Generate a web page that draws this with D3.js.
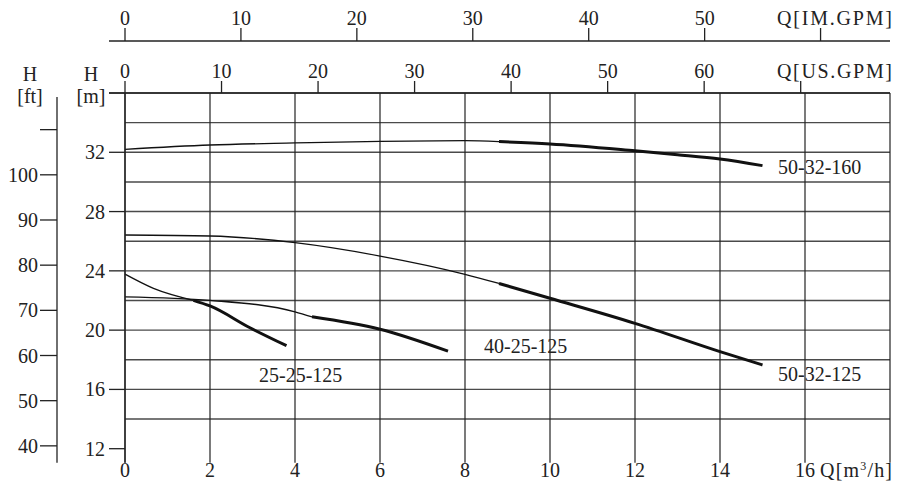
<!DOCTYPE html>
<html>
<head>
<meta charset="utf-8">
<script src="https://cdn.jsdelivr.net/npm/d3@7/dist/d3.min.js"></script>
<style>
  html, body { margin: 0; padding: 0; background: #fff; }
  svg { display: block; }
  text { font-family: "Liberation Serif", "Times New Roman", serif; font-size: 20px; fill: #222; }
</style>
</head>
<body>
<svg id="chart" width="900" height="500"></svg>
<script>
// ---- data ----
const qTicks = [0, 2, 4, 6, 8, 10, 12, 14, 16, 18];
const qTickLabels = ["0", "2", "4", "6", "8", "10", "12", "14", "16", ""];
const hTicks = [12, 16, 20, 24, 28, 32, 36];
const hTickLabels = ["12", "16", "20", "24", "28", "32", ""];
const hGrid = [14, 16, 18, 20, 22, 24, 26, 28, 30, 32, 34, 36];
const ftTicks = [40, 50, 60, 70, 80, 90, 100, 110];
const ftTickLabels = ["40", "50", "60", "70", "80", "90", "100", ""];
const usGpmTicks = [0, 10, 20, 30, 40, 50, 60, 70];
const usGpmLabels = ["0", "10", "20", "30", "40", "50", "60", ""];
const imGpmTicks = [0, 10, 20, 30, 40, 50, 60];
const imGpmLabels = ["0", "10", "20", "30", "40", "50", ""];

// pump curves: flow Q [m3/h], head H [m]; thickFrom = index where operating range starts
const names = ["50-32-160", "50-32-125", "40-25-125", "25-25-125"];
const q_50_32_160 = [0, 2, 4, 6, 8, 8.8, 10, 12, 13, 14, 15];
const h_50_32_160 = [32.2, 32.49, 32.63, 32.74, 32.78, 32.72, 32.56, 32.1, 31.84, 31.55, 31.1];
const q_50_32_125 = [0, 2, 4, 6, 8, 8.8, 10, 12, 14, 15];
const h_50_32_125 = [26.42, 26.35, 25.9, 25.0, 23.77, 23.15, 22.15, 20.46, 18.55, 17.65];
const q_40_25_125 = [0, 2, 4, 4.4, 6, 7.6];
const h_40_25_125 = [22.25, 22.01, 21.24, 20.9, 20.06, 18.58];
const q_25_25_125 = [0, 0.67, 1.61, 2, 2.94, 3.8];
const h_25_25_125 = [23.78, 22.82, 22.01, 21.63, 20.16, 18.95];
const thickFrom = [5, 5, 3, 2];

// ---- scales ----
const M3H_PER_USGPM = 1 / 4.4029;
const M3H_PER_IMGPM = 1 / 3.6661;
const M_PER_FT = 0.3048;

const x = d3.scaleLinear().domain([0, 18]).range([125, 890]);
const y = d3.scaleLinear().domain([12, 36]).range([448.7, 93]);
const xUS = d3.scaleLinear().domain([0, 18 / M3H_PER_USGPM]).range([125, 890]);
const xIM = d3.scaleLinear().domain([0, 18 / M3H_PER_IMGPM]).range([125, 890]);
const yFt = d3.scaleLinear().domain([12 / M_PER_FT, 36 / M_PER_FT]).range([448.7, 93]);

const svg = d3.select("#chart");
svg.append("rect").attr("width", 900).attr("height", 500).attr("fill", "#fff");

// ---- grid ----
const grid = svg.append("g");
grid.selectAll("line.h").data(hGrid).enter().append("line")
  .attr("x1", x(0)).attr("x2", x(18))
  .attr("y1", d => y(d)).attr("y2", d => y(d))
  .attr("stroke", "#4a4a4a").attr("stroke-width", 1.4);
grid.selectAll("line.v").data(qTicks).enter().append("line")
  .attr("x1", d => x(d)).attr("x2", d => x(d))
  .attr("y1", y(36)).attr("y2", y(12) + 14)
  .attr("stroke", "#222").attr("stroke-width", 1.2);

// ---- curves ----
const series = [
  [q_50_32_160, h_50_32_160],
  [q_50_32_125, h_50_32_125],
  [q_40_25_125, h_40_25_125],
  [q_25_25_125, h_25_25_125]
];
const line = d3.line().x(d => x(d[0])).y(d => y(d[1])).curve(d3.curveMonotoneX);
const curves = svg.append("g");
series.forEach((s, i) => {
  const pts = s[0].map((q, j) => [q, s[1][j]]);
  curves.append("path").attr("d", line(pts.slice(0, thickFrom[i] + 1)))
    .attr("fill", "none").attr("stroke", "#111").attr("stroke-width", 1.3);
  curves.append("path").attr("d", line(pts.slice(thickFrom[i])))
    .attr("fill", "none").attr("stroke", "#111").attr("stroke-width", 3);
});

// curve labels
const labelPos = [
  { x: 778, y: 174 },
  { x: 778, y: 381 },
  { x: 484, y: 353 },
  { x: 259, y: 382 }
];
svg.append("g").selectAll("text").data(names).enter().append("text")
  .attr("x", (d, i) => labelPos[i].x).attr("y", (d, i) => labelPos[i].y)
  .text(d => d);

// ---- left m axis ----
const mAxis = svg.append("g");
mAxis.append("line").attr("x1", x(0)).attr("x2", x(0)).attr("y1", y(36)).attr("y2", y(12) + 14)
  .attr("stroke", "#222").attr("stroke-width", 1.3);
mAxis.selectAll("line.t").data(hTicks).enter().append("line")
  .attr("x1", 109).attr("x2", x(0)).attr("y1", d => y(d)).attr("y2", d => y(d))
  .attr("stroke", "#222").attr("stroke-width", 1.3);
mAxis.selectAll("text").data(hTicks).enter().append("text")
  .attr("x", 105).attr("y", d => y(d)).attr("dy", "0.35em").attr("text-anchor", "end")
  .text((d, i) => hTickLabels[i]);
svg.append("text").attr("x", 91).attr("y", 81).attr("text-anchor", "middle").text("H");
svg.append("text").attr("x", 91).attr("y", 103).attr("text-anchor", "middle").text("[m]");

// ---- left ft axis ----
const ftAxis = svg.append("g");
ftAxis.append("line").attr("x1", 57).attr("x2", 57).attr("y1", 97).attr("y2", y(12) + 14)
  .attr("stroke", "#222").attr("stroke-width", 1.3);
ftAxis.selectAll("line.t").data(ftTicks).enter().append("line")
  .attr("x1", 40).attr("x2", 57).attr("y1", d => yFt(d)).attr("y2", d => yFt(d))
  .attr("stroke", "#222").attr("stroke-width", 1.3);
ftAxis.selectAll("text").data(ftTicks).enter().append("text")
  .attr("x", 38).attr("y", d => yFt(d)).attr("dy", "0.35em").attr("text-anchor", "end")
  .text((d, i) => ftTickLabels[i]);
svg.append("text").attr("x", 30).attr("y", 81).attr("text-anchor", "middle").text("H");
svg.append("text").attr("x", 30).attr("y", 103).attr("text-anchor", "middle").text("[ft]");

// ---- bottom Q axis labels ----
svg.append("g").selectAll("text").data(qTicks).enter().append("text")
  .attr("x", d => x(d)).attr("y", 477).attr("text-anchor", "middle")
  .text((d, i) => qTickLabels[i]);
const qLab = svg.append("text").attr("x", 820).attr("y", 477)
  .attr("textLength", 72).attr("lengthAdjust", "spacing");
qLab.append("tspan").text("Q[m");
qLab.append("tspan").attr("font-size", "12px").attr("dy", "-7").text("3");
qLab.append("tspan").attr("dy", "7").text("/h]");

// ---- top US GPM axis ----
const usAxis = svg.append("g");
usAxis.append("line").attr("x1", 109).attr("x2", 890).attr("y1", y(36)).attr("y2", y(36))
  .attr("stroke", "#222").attr("stroke-width", 1.3);
usAxis.selectAll("line.t").data(usGpmTicks).enter().append("line")
  .attr("x1", d => xUS(d)).attr("x2", d => xUS(d)).attr("y1", y(36)).attr("y2", 81)
  .attr("stroke", "#222").attr("stroke-width", 1.3);
usAxis.selectAll("text").data(usGpmTicks).enter().append("text")
  .attr("x", d => xUS(d)).attr("y", 78).attr("text-anchor", "middle")
  .text((d, i) => usGpmLabels[i]);
svg.append("text").attr("x", 777).attr("y", 78)
  .attr("textLength", 115).attr("lengthAdjust", "spacing").text("Q[US.GPM]");

// ---- top IM GPM axis ----
const imAxis = svg.append("g");
imAxis.append("line").attr("x1", 109).attr("x2", 890).attr("y1", 41).attr("y2", 41)
  .attr("stroke", "#222").attr("stroke-width", 1.3);
imAxis.selectAll("line.t").data(imGpmTicks).enter().append("line")
  .attr("x1", d => xIM(d)).attr("x2", d => xIM(d)).attr("y1", 41).attr("y2", 28)
  .attr("stroke", "#222").attr("stroke-width", 1.3);
imAxis.selectAll("text").data(imGpmTicks).enter().append("text")
  .attr("x", d => xIM(d)).attr("y", 25).attr("text-anchor", "middle")
  .text((d, i) => imGpmLabels[i]);
svg.append("text").attr("x", 777).attr("y", 25)
  .attr("textLength", 115).attr("lengthAdjust", "spacing").text("Q[IM.GPM]");
</script>
</body>
</html>
